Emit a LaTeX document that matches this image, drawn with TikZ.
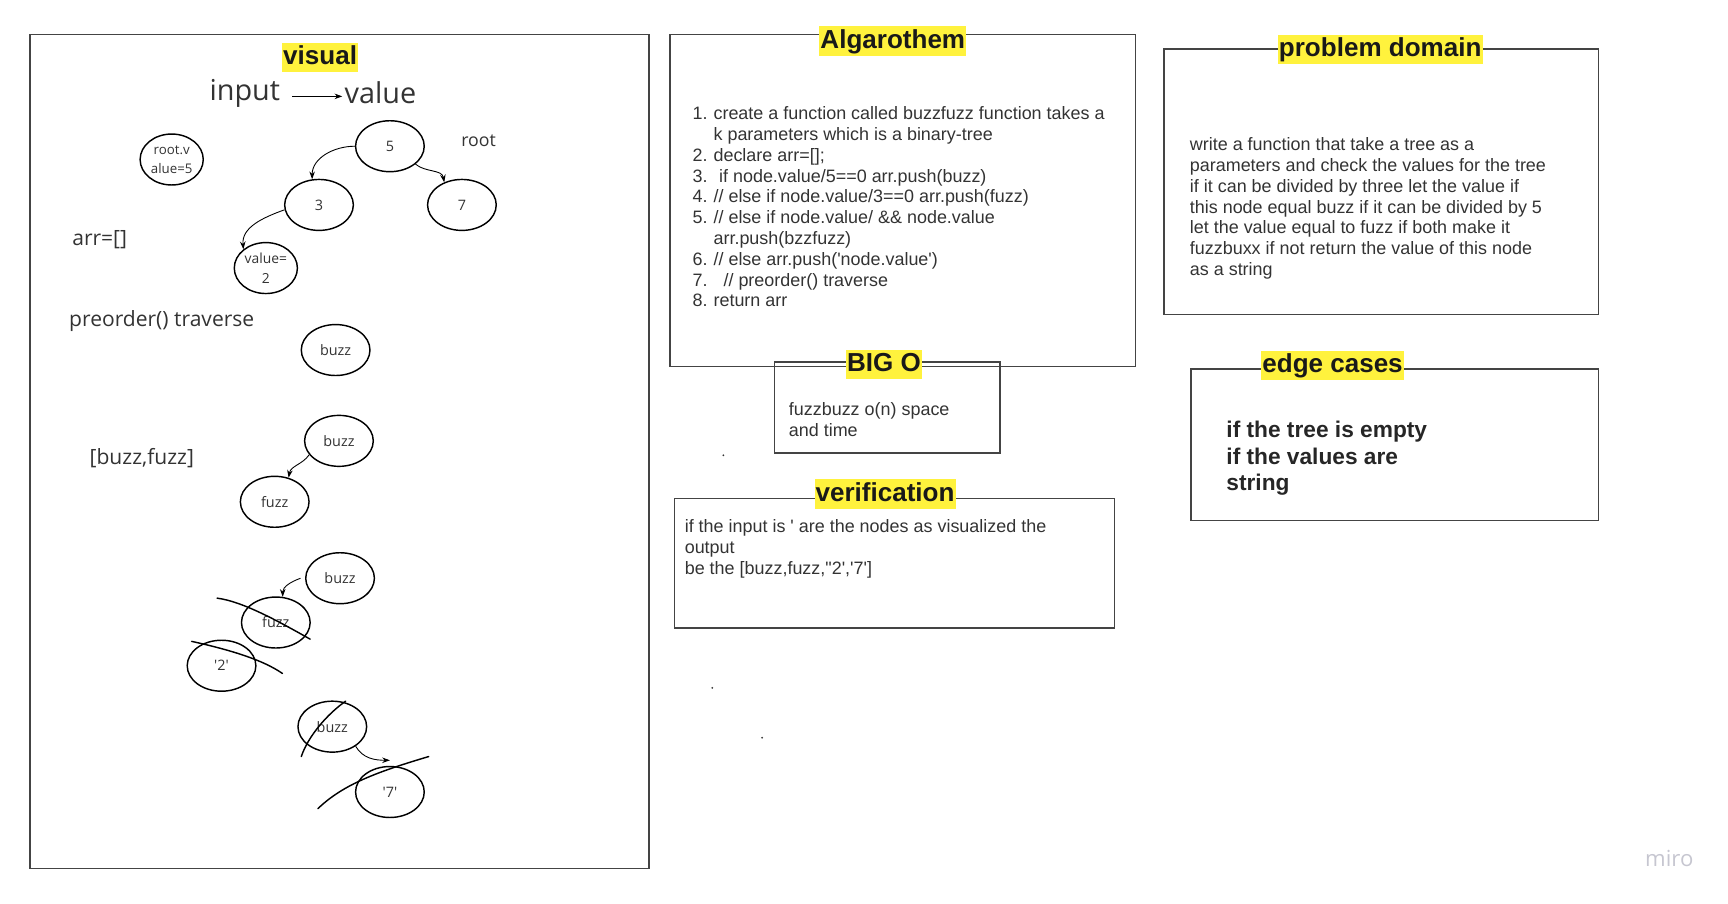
\documentclass[tikz,border=0pt]{standalone}
\usepackage{fontspec}
\setmainfont{Liberation Sans}
\newfontfamily\handfont{Open Sans}
\usetikzlibrary{shapes.geometric, positioning, arrows.meta}
\definecolor{marker}{HTML}{FFF23D}
\definecolor{ink}{HTML}{333333}
\definecolor{frame}{HTML}{444444}
\definecolor{mirogray}{HTML}{C6C6D0}
\tikzset{
  panel/.style={draw=frame, line width=1.4pt}, % the framed boxes
  heading/.style={fill=marker, text=black!90, font=\fontsize{23.5}{26}\selectfont\bfseries,
    inner xsep=1pt, inner ysep=2pt, text height=17.6pt, text depth=4.7pt}, % highlighted titles
  bubble/.style={ellipse, draw=black, line width=1.3pt, minimum width=62pt, minimum height=46pt,
    inner sep=0pt, text=ink, font=\handfont\fontsize{13}{15}\selectfont}, % tree nodes
  sketch/.style={text=ink, inner sep=2pt, font=\handfont\fontsize{19}{22}\selectfont}, % loose notes
  body/.style={text=ink, align=left, anchor=north west, inner sep=0pt,
    font=\fontsize{16.2}{18.8}\selectfont}, % box texts
  link/.style={-{Stealth[length=7pt,width=5pt]}, line width=0.8pt}, % arrows of the tree
  strike/.style={line width=1.3pt, line cap=round} % cross-out strokes
}
\newcommand{\sq}{\textquotesingle}

\begin{document}
\begin{tikzpicture}[x=1pt, y=-1pt]

    \useasboundingbox (0,0) rectangle (1560,816);

    % boxes
    \draw[panel] (27,31) rectangle (586,784);
    \draw[panel] (605,31) rectangle (1025,331);
    \draw[panel] (699,327) rectangle (903,409);
    \draw[panel] (609,450) rectangle (1006,567);
    \draw[panel] (1051,44) rectangle (1443,284);
    \draw[panel] (1075,333) rectangle (1443,470);

    % titles
    \node[heading] (visual_title) at (289,52) {visual};
    \node[heading] (algo_title) at (806,37) {Algarothem};
    \node[heading] (bigo_title) at (798,329) {BIG O};
    \node[heading] (verify_title) at (799,446) {verification};
    \node[heading] (domain_title) at (1246,45) {problem domain};
    \node[heading] (edge_title) at (1203,330) {edge cases};

    % visual
    \node[sketch, font=\handfont\fontsize{26}{30}\selectfont] (input) at (221,84) {input};
    \node[sketch, font=\handfont\fontsize{26}{30}\selectfont, right=54pt of input] (value) {value};
    \draw[link, shorten <=9pt] ([yshift=-3pt]input.east) -- ([yshift=-3pt]value.west);

    \node[sketch, font=\handfont\fontsize{16}{19}\selectfont] (root_label) at (432,127) {root};
    \node[sketch] (arr_label) at (90,216) {arr=[]};
    \node[sketch] (preorder_label) at (146,290) {preorder() traverse};
    \node[sketch] (result_label) at (128,414) {[buzz,fuzz]};

    \node[bubble, align=center, minimum width=57pt, font=\handfont\fontsize{12}{17}\selectfont] (rootv) at (155,144) {root.v\\alue=5};
    \node[bubble] (five) at (352,132) {5};
    \node[bubble] (three) at (288,185) {3};
    \node[bubble] (seven) at (417,185) {7};
    \node[bubble, align=center, minimum width=57pt, font=\handfont\fontsize{12.5}{18}\selectfont] (two) at (240,242) {value=\\2};

    \node[bubble] (buzz_a) at (303,316) {buzz};
    \node[bubble] (buzz_b) at (306,398) {buzz};
    \node[bubble] (fuzz_b) at (248,453) {fuzz};
    \node[bubble] (buzz_c) at (307,522) {buzz};
    \node[bubble] (fuzz_c) at (249,562) {fuzz};
    \node[bubble] (two_c) at (200,601) {\sq 2\sq};
    \node[bubble] (buzz_d) at (300,656) {buzz};
    \node[bubble] (seven_d) at (352,715) {\sq 7\sq};

    \draw
      (five.west) edge[link, out=180, in=90] (three.105)
      (five.-35) edge[link, out=-40, in=100] (seven.128)
      (three.188) edge[link, out=200, in=95] (two.140)
      (buzz_b.205) edge[link, out=235, in=80] (fuzz_b.60)
      ([xshift=-4pt]buzz_c.west) edge[link, out=200, in=90] (fuzz_c.75)
      (buzz_d.-40) edge[link, out=-60, in=180] ([yshift=5pt]seven_d.north)
      ;

    % crossed out
    \draw[strike] (196,540) .. controls (220,543) and (255,563) .. (280,577);
    \draw[strike] (173,579) .. controls (200,585) and (235,594) .. (255,608);
    \draw[strike] (312,633) .. controls (295,645) and (278,665) .. (272,683);
    \draw[strike] (287,730) .. controls (310,708) and (340,697) .. (387,683);

    % algorithm
    \node[body] (algo_text) at (625,96) {%
      \makebox[19pt][l]{1.}create a function called buzzfuzz function takes a\\
      \hspace*{19pt}k parameters which is a binary-tree\\
      \makebox[19pt][l]{2.}declare arr=[];\\
      \makebox[19pt][l]{3.}\hspace*{5pt}if node.value/5==0 arr.push(buzz)\\
      \makebox[19pt][l]{4.}// else if node.value/3==0 arr.push(fuzz)\\
      \makebox[19pt][l]{5.}// else if node.value/ \&\& node.value\\
      \hspace*{19pt}arr.push(bzzfuzz)\\
      \makebox[19pt][l]{6.}// else arr.push(\sq node.value\sq)\\
      \makebox[19pt][l]{7.}\hspace*{9pt}// preorder() traverse\\
      \makebox[19pt][l]{8.}return arr};

    \node[body] (bigo_text) at (712,363) {fuzzbuzz o(n) space\\and time};

    \node[body] (verify_text) at (618,469) {if the input is \sq{} are the nodes as visualized the\\
      output\\be the [buzz,fuzz,\textquotedbl 2\sq,\sq 7\sq]};

    \node[body] (domain_text) at (1074,124) {write a function that take a tree as a\\
      parameters and check the values for the tree\\
      if it can be divided by three let the value if\\
      this node equal buzz if it can be divided by 5\\
      let the value equal to fuzz if both make it\\
      fuzzbuxx if not return the value of this node\\
      as a string};

    \node[body, font=\fontsize{20.5}{24}\selectfont\bfseries, text=black!85] (edge_text) at (1107,380) {if the tree is empty\\
      if the values are\\string};

    % stray dots
    \fill[ink] (653,411) circle (0.9pt);
    \fill[ink] (643,621) circle (0.9pt);
    \fill[ink] (688,666) circle (0.9pt);

    \node[text=mirogray, font=\handfont\fontsize{20}{24}\selectfont] (miro) at (1507,775) {miro};

\end{tikzpicture}
\end{document}
